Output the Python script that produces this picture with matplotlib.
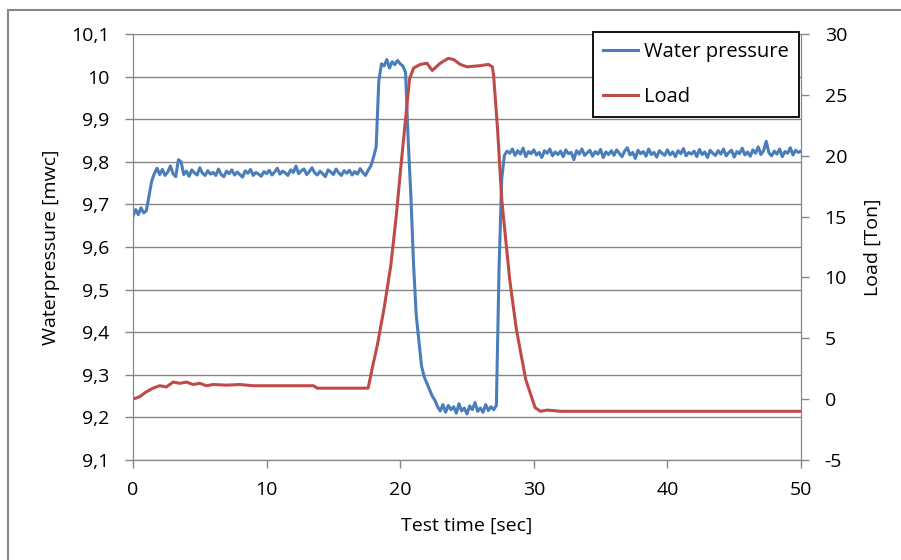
import matplotlib.pyplot as plt
import numpy as np
from matplotlib.ticker import FuncFormatter

plt.rcParams['font.family'] = ['Open Sans', 'DejaVu Sans']

pressure_step = 0.2
pressure = [
    9.672, 9.688, 9.676, 9.692, 9.680, 9.685, 9.720, 9.755, 9.772, 9.785,
    9.770, 9.782, 9.768, 9.776, 9.790, 9.772, 9.765, 9.805, 9.800, 9.770,
    9.778, 9.766, 9.781, 9.774, 9.769, 9.786, 9.773, 9.768, 9.779, 9.771,
    9.775, 9.768, 9.783, 9.770, 9.765, 9.778, 9.772, 9.781, 9.769, 9.776,
    9.770, 9.764, 9.779, 9.773, 9.782, 9.768, 9.775, 9.771, 9.766, 9.777,
    9.772, 9.780, 9.769, 9.776, 9.785, 9.771, 9.778, 9.774, 9.768, 9.781,
    9.775, 9.790, 9.772, 9.779, 9.783, 9.770, 9.777, 9.786, 9.774, 9.769,
    9.778, 9.772, 9.765, 9.781, 9.776, 9.770, 9.783, 9.774, 9.768, 9.779,
    9.773, 9.780, 9.769, 9.777, 9.771, 9.784, 9.775, 9.768, 9.780, 9.790,
    9.810, 9.835, 9.990, 10.030, 10.025, 10.040, 10.020, 10.035, 10.028, 10.038,
    10.030, 10.025, 10.010, 9.850, 9.720, 9.560, 9.440, 9.380, 9.320, 9.295,
    9.280, 9.265, 9.250, 9.240, 9.225, 9.215, 9.230, 9.212, 9.228, 9.218,
    9.225, 9.210, 9.232, 9.215, 9.222, 9.208, 9.227, 9.218, 9.235, 9.214,
    9.222, 9.212, 9.230, 9.216, 9.225, 9.218, 9.228, 9.550, 9.760, 9.815,
    9.825, 9.820, 9.830, 9.815, 9.826, 9.818, 9.832, 9.812, 9.824, 9.819,
    9.828, 9.816, 9.822, 9.810, 9.826, 9.820, 9.830, 9.814, 9.823, 9.817,
    9.825, 9.812, 9.828, 9.819, 9.822, 9.805, 9.826, 9.818, 9.830, 9.815,
    9.821, 9.827, 9.813, 9.824, 9.818, 9.829, 9.810, 9.823, 9.817, 9.826,
    9.815, 9.828, 9.820, 9.812, 9.825, 9.833, 9.816, 9.822, 9.808, 9.827,
    9.819, 9.824, 9.813, 9.830, 9.817, 9.822, 9.811, 9.826, 9.820, 9.815,
    9.828, 9.816, 9.823, 9.812, 9.826, 9.819, 9.831, 9.814, 9.822, 9.818,
    9.825, 9.812, 9.829, 9.817, 9.823, 9.810, 9.827, 9.820, 9.815, 9.826,
    9.818, 9.830, 9.814, 9.822, 9.827, 9.811, 9.824, 9.819, 9.832, 9.816,
    9.823, 9.813, 9.828, 9.820, 9.835, 9.817, 9.826, 9.848, 9.821, 9.814,
    9.825, 9.818, 9.830, 9.812, 9.824, 9.820, 9.833, 9.816, 9.827, 9.822,
    9.825,
]
pressure_time = np.arange(len(pressure)) * pressure_step

# Load [Ton] at hand-read time points.
load_time = [0, 0.5, 1.0, 1.5, 2.0, 2.5, 3.0, 3.5, 4.0, 4.5, 5.0, 5.5, 6.0, 7.0,
             8.0, 9.0, 10.0, 11.0, 13.5, 13.8, 17.6, 17.9, 18.3, 18.8, 19.3,
             19.7, 20.0, 20.4, 20.7, 21.0, 21.5, 22.0, 22.4, 23.0, 23.6, 24.0,
             24.5, 25.0, 26.0, 26.6, 26.9, 27.0, 27.3, 27.6, 28.2, 28.7, 29.4,
             30.1, 30.5, 31.0, 32.0, 50.0]
load = [0.0, 0.2, 0.6, 0.9, 1.1, 1.0, 1.4, 1.3, 1.4, 1.2, 1.3, 1.1, 1.2, 1.15,
        1.2, 1.1, 1.1, 1.1, 1.1, 0.9, 0.9, 2.5, 4.5, 7.5, 11.0,
        15.0, 18.5, 23.0, 26.3, 27.2, 27.5, 27.6, 27.0, 27.6, 28.0, 27.9,
        27.5, 27.3, 27.4, 27.5, 27.3, 26.5, 22.0, 16.4, 9.8, 5.7, 1.6,
        -0.7, -1.0, -0.9, -1.0, -1.0]

blue = '#4A7EBB'
red = '#BE4B48'
grey = '#868686'
fs = 14

fig = plt.figure(figsize=(9.01, 5.60), dpi=100)
ax = fig.add_axes([0.1476, 0.1786, 0.7414, 0.7607])
ax2 = ax.twinx()

l1, = ax.plot(pressure_time, pressure, color=blue, lw=2.2, label='Water pressure')
l2, = ax2.plot(load_time, load, color=red, lw=2.2, label='Load')

ax.set_xlim(0, 50)
ax.set_ylim(9.1, 10.1)
ax2.set_ylim(-5, 30)
ax.set_xticks([0, 10, 20, 30, 40, 50])
ax.set_yticks(np.round(np.arange(9.1, 10.15, 0.1), 1))
ax2.set_yticks([-5, 0, 5, 10, 15, 20, 25, 30])


def comma(v, pos):
    s = f'{v:.1f}'
    if s.endswith('.0'):
        s = s[:-2]
    return s.replace('.', ',')


ax.yaxis.set_major_formatter(FuncFormatter(comma))
ax2.yaxis.set_major_formatter(FuncFormatter(lambda v, p: f'{v:.0f}'))

ax.grid(axis='y', color=grey, lw=1)
ax.set_axisbelow(True)
for a in (ax, ax2):
    for s in ('left', 'right', 'bottom'):
        a.spines[s].set_color(grey)
    a.spines['top'].set_visible(False)
    a.tick_params(colors=grey, labelcolor='black', labelsize=fs, length=6, width=1, pad=11)
ax.tick_params(axis='x', pad=9)

ax.set_xlabel('Test time [sec]', fontsize=fs, labelpad=13)
ax.set_ylabel('Waterpressure [mwc]', fontsize=fs, labelpad=8)
ax2.set_ylabel('Load [Ton]', fontsize=fs, labelpad=12)

leg = ax2.legend(handles=[l1, l2], loc='upper right', bbox_to_anchor=(0.997, 1.005),
                 fontsize=14.5, fancybox=False, framealpha=1, edgecolor='black',
                 handlelength=1.75, labelspacing=1.25, borderpad=0.5, handletextpad=0.3,
                 borderaxespad=0)
leg.get_frame().set_linewidth(1.3)

# Excel-style chart frame (top and left edges visible)
fig.add_artist(plt.Line2D([0.009, 1.0], [0.983, 0.983], color=grey, lw=1.5))
fig.add_artist(plt.Line2D([0.009, 0.009], [0.0, 0.983], color=grey, lw=1.5))

fig.savefig('out.png', dpi=100)
